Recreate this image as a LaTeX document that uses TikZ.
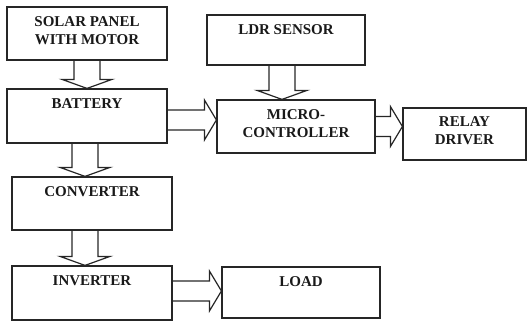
\documentclass[tikz,border=0pt]{standalone}
\usepackage{fontspec}
\setmainfont{Liberation Serif}
\usetikzlibrary{calc, positioning}

\begin{document}
\begin{tikzpicture}[
    x=1pt, y=-1pt,
    block/.style={
        rectangle, draw=black!85, line width=1.2pt,
        minimum width=160pt, minimum height=53pt,
        inner sep=0pt
    },
    blocktext/.style={
        anchor=base, inner sep=0pt, align=center,
        font=\fontsize{15}{18}\selectfont\bfseries, text=black!90
    },
    downarrow/.style={draw=black!85, line width=1.2pt, to path={
        let \p1=(\tikztostart), \p2=(\tikztotarget) in
        (\x1-13pt,\y1) -- (\x1-13pt,\y2+9pt) -- (\x1-25pt,\y2+9pt)
        -- (\x1,\y2) -- (\x1+25pt,\y2+9pt) -- (\x1+13pt,\y2+9pt)
        -- (\x1+13pt,\y1)}
    },
    rightarrow/.style={draw=black!85, line width=1.2pt, to path={
        let \p1=(\tikztostart), \p2=(\tikztotarget) in
        (\x1,\y1+10pt) -- (\x2-12pt,\y1+10pt) -- (\x2-12pt,\y1+20pt)
        -- (\x2,\y1) -- (\x2-12pt,\y1-20pt) -- (\x2-12pt,\y1-10pt)
        -- (\x1,\y1-10pt)}
    },
]
\useasboundingbox (0,0) rectangle (528,324);

%% Left column
\node[block] (solar) at (87,33.5) {};
\node[blocktext] (solar-t) at ([yshift=-38pt]solar.north) {SOLAR PANEL\\WITH MOTOR};

\node[block, minimum height=54pt] (bat) at (87,116) {};
\node[blocktext] (bat-t) at ([yshift=-20.5pt]bat.north) {BATTERY};

\node[block] (conv) at (92,203.5) {};
\node[blocktext] (conv-t) at ([yshift=-20pt]conv.north) {CONVERTER};

\node[block, minimum height=54pt] (inv) at (92,293) {};
\node[blocktext] (inv-t) at ([yshift=-20.5pt]inv.north) {INVERTER};

%% Right side
\node[block, minimum width=158pt, minimum height=50pt] (ldr) at (286,40) {};
\node[blocktext] (ldr-t) at ([yshift=-20pt]ldr.north) {LDR SENSOR};

\node[block, minimum width=158pt] (micro) at (296,126.5) {};
\node[blocktext] (micro-t) at ([yshift=-38pt]micro.north) {MICRO-\\CONTROLLER};

\node[block, minimum width=123pt, minimum height=52pt] (relay) at (464.5,134) {};
\node[blocktext] (relay-t) at ([yshift=-37pt]relay.north) {RELAY\\DRIVER};

\node[block, minimum width=158pt, minimum height=51pt] (load) at (301,292.5) {};
\node[blocktext] (load-t) at ([yshift=-20pt]load.north) {LOAD};

%% Hollow arrows
\draw[downarrow] (solar.south) to (bat.north);
\draw[downarrow] ([xshift=-2pt]bat.south) to (conv.north);
\draw[downarrow] ([xshift=-7pt]conv.south) to (inv.north);
\draw[downarrow] ([xshift=-4pt]ldr.south) to (micro.north);

\draw[rightarrow] ([yshift=-4pt]bat.east) to (micro.west);
\draw[rightarrow] (micro.east) to (relay.west);
\draw[rightarrow] ([yshift=2pt]inv.east) to (load.west);

\end{tikzpicture}
\end{document}
